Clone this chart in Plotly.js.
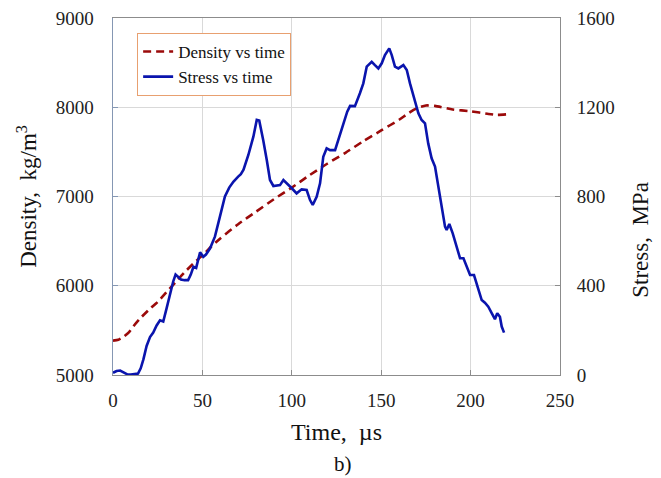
<!DOCTYPE html>
<html>
<head>
<meta charset="utf-8">
<script src="https://cdn.plot.ly/plotly-3.0.1.min.js"></script>
<style>html,body{margin:0;padding:0;background:#fff}#chart{width:661px;height:478px}</style>
</head>
<body>
<div id="chart"></div>
<script>
// Density vs time
const densityTime = [0, 3, 6, 9, 12, 15, 20, 25, 30, 35, 40, 45, 50, 55, 60, 70, 80, 90, 100, 110, 120, 130, 140, 150, 160, 165, 170, 175, 180, 190, 200, 210, 215, 220];
const densityValues = [5385, 5395, 5430, 5480, 5560, 5630, 5730, 5820, 5930, 6040, 6150, 6250, 6340, 6440, 6530, 6690, 6830, 6970, 7100, 7240, 7370, 7490, 7620, 7740, 7860, 7930, 7990, 8020, 8015, 7975, 7955, 7925, 7915, 7920];

// Stress vs time
const stressTime = [0, 2, 4, 6, 8, 10, 12, 14, 15.5, 17, 18.8, 20.7, 22.5, 24.4, 26.3, 28.1, 30, 31.9, 33.7, 35, 36.5, 38, 40, 42, 43.5, 45, 46.5, 48.7, 50.5, 52, 54.3, 57, 59.8, 62.6, 65, 67.3, 70, 71.5, 73, 75.7, 78.5, 80.4, 81.8, 83, 84, 86, 87.8, 89.7, 93.4, 95.3, 97, 100, 102.7, 105.5, 108.3, 110.2, 111.7, 113.9, 115.8, 117.6, 119.5, 121.4, 124.2, 127, 128.8, 131, 132.6, 135.3, 138.1, 140, 141.9, 144.7, 146.5, 148.4, 150.3, 152.1, 154.5, 155.9, 157.7, 159.6, 162.4, 164.3, 166.1, 168.9, 170.8, 172.6, 174.5, 176.3, 178.2, 180.1, 182, 183.8, 185.7, 186.6, 188.1, 190, 192.2, 194.1, 196, 197.8, 199.7, 201.9, 204.3, 206.2, 208, 209.9, 211.8, 213.6, 214.9, 216.4, 217.4, 218.7];
const stressValues = [10, 18, 20, 10, 3, 2, 3, 6, 30, 70, 130, 170, 190, 222, 245, 240, 300, 365, 420, 450, 438, 428, 425, 425, 450, 485, 480, 550, 530, 540, 568, 620, 710, 800, 840, 866, 889, 900, 920, 986, 1068, 1143, 1140, 1100, 1053, 964, 874, 847, 851, 874, 859, 837, 814, 832, 829, 784, 762, 799, 859, 978, 1016, 1008, 1008, 1076, 1128, 1180, 1206, 1205, 1263, 1307, 1382, 1404, 1389, 1374, 1397, 1434, 1464, 1434, 1382, 1374, 1389, 1367, 1307, 1232, 1173, 1143, 1128, 1038, 971, 934, 844, 754, 665, 650, 677, 635, 575, 523, 523, 485, 448, 448, 381, 336, 324, 306, 277, 250, 277, 261, 217, 190];

const xTicks = [0, 50, 100, 150, 200, 250];
const densityTicks = [5000, 6000, 7000, 8000, 9000];
const stressTicks = [0, 400, 800, 1200, 1600];

const serif = "Liberation Serif, serif";

const traces = [
  {
    x: densityTime, y: densityValues, name: 'Density vs time', type: 'scatter', mode: 'lines',
    line: {color: '#9b0a0a', width: 2.6, dash: '8px,5px', shape: 'spline', smoothing: 0.6},
    yaxis: 'y'
  },
  {
    x: stressTime, y: stressValues, name: 'Stress vs time', type: 'scatter', mode: 'lines',
    line: {color: '#0a14ad', width: 2.6, shape: 'linear'},
    yaxis: 'y2'
  }
];

const layout = {
  width: 661, height: 478,
  margin: {l: 113, r: 101, t: 18, b: 103},
  paper_bgcolor: '#ffffff', plot_bgcolor: '#ffffff',
  font: {family: serif, color: '#222222', size: 19},
  showlegend: true,
  legend: {
    x: 0.054, y: 0.958, xanchor: 'left', yanchor: 'top',
    bgcolor: '#ffffff', bordercolor: '#e8a070', borderwidth: 1,
    font: {family: serif, size: 17, color: '#111111'}
  },
  xaxis: {
    range: [0, 250], tickvals: xTicks, ticktext: xTicks.map(String),
    showgrid: true, gridcolor: '#d9d9d9', gridwidth: 1,
    showline: true, linecolor: '#8c8c8c', linewidth: 1, mirror: true,
    ticks: 'inside', ticklen: 5, tickcolor: '#8c8c8c',
    zeroline: false, ticklabelstandoff: 8,
    tickfont: {family: serif, size: 19, color: '#222222'},
    title: {text: 'Time,  µs', font: {family: serif, size: 24, color: '#111111'}, standoff: 13}
  },
  yaxis: {
    range: [5000, 9000], tickvals: densityTicks, ticktext: densityTicks.map(String),
    showgrid: true, gridcolor: '#d9d9d9', gridwidth: 1,
    showline: true, linecolor: '#8597b3', linewidth: 1.5,
    ticks: 'inside', ticklen: 5, tickcolor: '#8597b3',
    zeroline: false, ticklabelstandoff: 14,
    tickfont: {family: serif, size: 19, color: '#222222'},
    title: {text: 'Density,  kg/m<sup>3</sup>', font: {family: serif, size: 23, color: '#111111'}, standoff: 12}
  },
  yaxis2: {
    range: [0, 1600], tickvals: stressTicks, ticktext: stressTicks.map(String),
    overlaying: 'y', side: 'right',
    showgrid: false,
    showline: true, linecolor: '#8c8c8c', linewidth: 1,
    ticks: 'inside', ticklen: 5, tickcolor: '#8c8c8c',
    zeroline: false, ticklabelstandoff: 12,
    tickfont: {family: serif, size: 19, color: '#222222'}
  },
  annotations: [
    {text: 'Stress,  MPa', xref: 'paper', yref: 'paper', x: 1.18, y: 0.38, xanchor: 'center', yanchor: 'middle',
     textangle: -90, showarrow: false, font: {family: serif, size: 23, color: '#111111'}},
    {text: 'b)', xref: 'paper', yref: 'paper', x: 0.515, y: -0.25, xanchor: 'center', yanchor: 'middle',
     showarrow: false, font: {family: serif, size: 21, color: '#111111'}}
  ]
};

Plotly.newPlot('chart', traces, layout, {displayModeBar: false, staticPlot: true});
</script>
</body>
</html>
